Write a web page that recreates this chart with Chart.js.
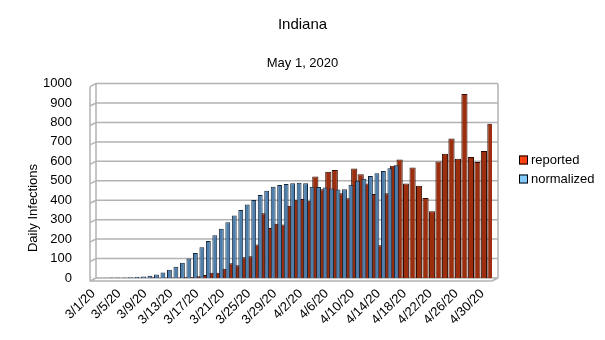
<!DOCTYPE html>
<html>
<head>
<meta charset="utf-8">
<script src="https://cdn.jsdelivr.net/npm/chart.js@4.4.1/dist/chart.umd.min.js"></script>
<style>
  html, body { margin: 0; padding: 0; background: #ffffff; }
</style>
</head>
<body>
<canvas id="chart" width="605" height="340"></canvas>
<script>
const days = [
  '3/1/20', '3/2/20', '3/3/20', '3/4/20', '3/5/20', '3/6/20', '3/7/20', '3/8/20',
  '3/9/20', '3/10/20', '3/11/20', '3/12/20', '3/13/20', '3/14/20', '3/15/20', '3/16/20',
  '3/17/20', '3/18/20', '3/19/20', '3/20/20', '3/21/20', '3/22/20', '3/23/20', '3/24/20',
  '3/25/20', '3/26/20', '3/27/20', '3/28/20', '3/29/20', '3/30/20', '3/31/20',
  '4/1/20', '4/2/20', '4/3/20', '4/4/20', '4/5/20', '4/6/20', '4/7/20', '4/8/20',
  '4/9/20', '4/10/20', '4/11/20', '4/12/20', '4/13/20', '4/14/20', '4/15/20', '4/16/20',
  '4/17/20', '4/18/20', '4/19/20', '4/20/20', '4/21/20', '4/22/20', '4/23/20', '4/24/20',
  '4/25/20', '4/26/20', '4/27/20', '4/28/20', '4/29/20', '4/30/20', '5/1/20'
];

// new cases as reported each day
const reported = [
  0, 0, 0, 0, 0, 1, 0, 1, 0, 4, 1, 2, 2, 3, 5, 5,
  9, 15, 27, 27, 47, 76, 66, 107, 112, 172, 333, 257, 279, 275, 372,
  403, 406, 398, 522, 457, 546, 556, 436, 410, 563, 534, 486, 432, 168, 436, 577,
  610, 486, 568, 474, 411, 343, 599, 639, 718, 614, 946, 622, 597, 653, 794
];

// smoothed series, stops on 4/17
const normalized = [
  1, 1, 1, 2, 2, 3, 4, 6, 8, 12, 18, 28, 42, 58, 78, 100,
  129, 158, 190, 220, 253, 287, 322, 350, 378, 401, 427, 449, 470, 478, 483,
  488, 490, 488, 470, 468, 466, 460, 455, 457, 480, 500, 510, 525, 539, 551, 565,
  580, null, null, null, null, null, null, null, null, null, null, null, null, null, null
];

const yTicks = [0, 100, 200, 300, 400, 500, 600, 700, 800, 900, 1000];

const seriesNames = ['reported', 'normalized'];
const legendColors = ['#ff420e', '#83caff'];

const FONT = '"Liberation Sans", Arial, sans-serif';
const GRID = '#b3b3b3';
const DX = 6, DY = 3;

// back wall grid, side wall and floor edge
const wallPlugin = {
  id: 'wall',
  beforeDatasetsDraw(chart) {
    const { ctx, chartArea } = chart;
    const y = chart.scales.y;
    const L = chartArea.left, R = chartArea.right;
    const top = y.getPixelForValue(1000), bottom = y.getPixelForValue(0);
    ctx.save();
    ctx.strokeStyle = GRID;
    ctx.lineWidth = 1.5;
    ctx.beginPath();
    yTicks.forEach(v => {
      const py = y.getPixelForValue(v);
      ctx.moveTo(L, py + DY);
      ctx.lineTo(L + DX, py);
      ctx.lineTo(R + DX, py);
    });
    ctx.moveTo(L, top + DY);
    ctx.lineTo(L, bottom + DY);
    ctx.lineTo(R, bottom + DY);
    ctx.lineTo(R + DX, bottom);
    ctx.moveTo(L + DX, top);
    ctx.lineTo(L + DX, bottom);
    ctx.moveTo(R + DX, top);
    ctx.lineTo(R + DX, bottom);
    ctx.stroke();
    ctx.restore();
  }
};

// axis title and legend on the right
const sideTextPlugin = {
  id: 'sideText',
  afterDraw(chart) {
    const { ctx, chartArea } = chart;
    ctx.save();
    ctx.fillStyle = '#000';
    ctx.font = '13px ' + FONT;
    ctx.textAlign = 'center';
    ctx.textBaseline = 'middle';
    ctx.translate(33, 208);
    ctx.rotate(-Math.PI / 2);
    ctx.fillText('Daily Infections', 0, 0);
    ctx.restore();

    ctx.save();
    ctx.font = '13px ' + FONT;
    ctx.textAlign = 'left';
    ctx.textBaseline = 'middle';
    const x0 = chartArea.right + 27;
    seriesNames.forEach((name, i) => {
      const cy = 160 + i * 19;
      ctx.fillStyle = legendColors[i];
      ctx.fillRect(x0, cy - 4.5, 9, 9);
      ctx.strokeStyle = '#000';
      ctx.lineWidth = 1;
      ctx.strokeRect(x0 + 0.5, cy - 4, 8, 8);
      ctx.fillStyle = '#000';
      ctx.fillText(name, x0 + 12, cy);
    });
    ctx.restore();
  }
};

// normalized is listed first so it sits in front of reported
new Chart(document.getElementById('chart'), {
  type: 'bar',
  data: {
    labels: days,
    datasets: [
      {
        label: seriesNames[1],
        data: normalized,
        backgroundColor: '#4e7fac',
        borderColor: '#15263a',
        borderWidth: { top: 1, right: 1, left: 1, bottom: 0 },
        borderSkipped: false,
        categoryPercentage: 1.0,
        barPercentage: 1.5
      },
      {
        label: seriesNames[0],
        data: reported,
        backgroundColor: '#9c2e0e',
        borderColor: '#300a02',
        borderWidth: { top: 1, right: 1, left: 1, bottom: 0 },
        borderSkipped: false,
        categoryPercentage: 1.0,
        barPercentage: 1.9
      }
    ]
  },
  options: {
    responsive: false,
    animation: false,
    layout: { padding: { left: 10, right: 10, top: 0, bottom: 0 } },
    plugins: {
      title: {
        display: true,
        text: 'Indiana',
        color: '#000',
        font: { family: FONT, size: 15, weight: 'normal' },
        padding: { top: 16, bottom: 22 }
      },
      subtitle: {
        display: true,
        text: 'May 1, 2020',
        color: '#000',
        font: { family: FONT, size: 13, weight: 'normal' },
        padding: { top: 0, bottom: 12 }
      },
      legend: { display: false },
      tooltip: { enabled: false }
    },
    scales: {
      x: {
        afterFit: scale => { scale.height = 62; },
        grid: { display: false, drawTicks: false },
        border: { display: false },
        ticks: {
          autoSkip: false,
          maxRotation: 45,
          minRotation: 45,
          color: '#000',
          font: { family: FONT, size: 13 },
          padding: 8,
          callback: (v, i) => (i % 4 === 0 ? days[i] : '')
        }
      },
      y: {
        min: 0,
        max: 1000,
        afterFit: scale => { scale.width = 80; },
        grid: { display: false },
        border: { display: false },
        ticks: {
          stepSize: 100,
          autoSkip: false,
          color: '#000',
          font: { family: FONT, size: 13 },
          padding: 10,
          callback: v => String(v)
        }
      },
      // empty axis that keeps room for the legend on the right
      side: {
        type: 'linear',
        position: 'right',
        afterFit: scale => { scale.width = 103; },
        grid: { display: false },
        border: { display: false },
        ticks: { display: false }
      }
    }
  },
  plugins: [wallPlugin, sideTextPlugin]
});
</script>
</body>
</html>
